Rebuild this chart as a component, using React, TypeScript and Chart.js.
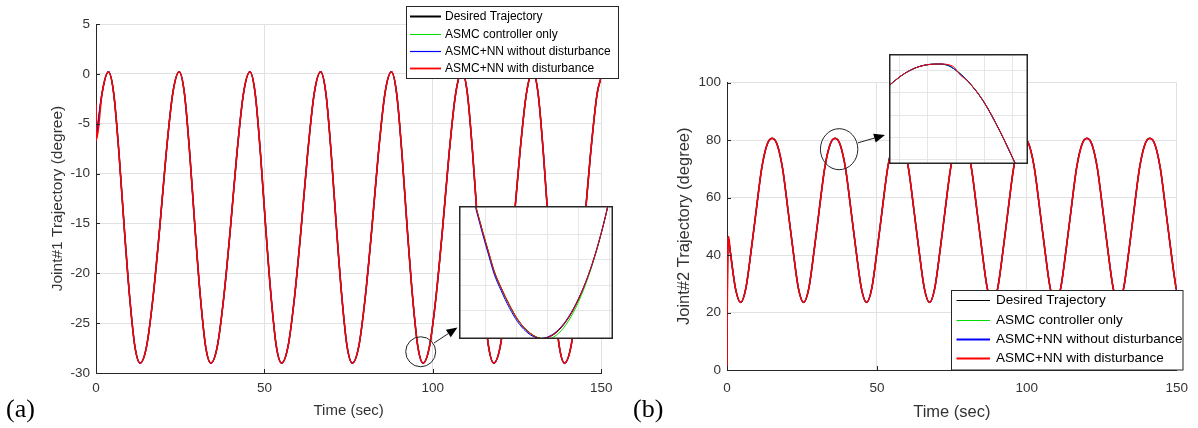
import React, { useEffect, useRef } from "react";
import { Chart, registerables } from "chart.js";

Chart.register(...registerables);

// ---------------- data ----------------
const seriesLabels = [
  "Desired Trajectory",
  "ASMC controller only",
  "ASMC+NN without disturbance",
  "ASMC+NN with disturbance",
];
const seriesColors = ["#000000", "#00dd00", "#0000ff", "#ff0000"];

// Joint #1 (panel a)
const joint1Time = [
  0, 1.77, 3.7,
  5.27, 6.83, 8.4, 9.97, 11.53, 13.1, 15.03, 16.97, 18.9, 20.83, 22.77, 24.7,
  26.27, 27.83, 29.4, 30.97, 32.53, 34.1, 36.03, 37.97, 39.9, 41.83, 43.77, 45.7,
  47.27, 48.83, 50.4, 51.97, 53.53, 55.1, 57.03, 58.97, 60.9, 62.83, 64.77, 66.7,
  68.27, 69.83, 71.4, 72.97, 74.53, 76.1, 78.03, 79.97, 81.9, 83.83, 85.77, 87.7,
  89.27, 90.83, 92.4, 93.97, 95.53, 97.1, 99.03, 100.97, 102.9, 104.83, 106.77, 108.7,
  110.27, 111.83, 113.4, 114.97, 116.53, 118.1, 120.03, 121.97, 123.9, 125.83, 127.77, 129.7,
  131.27, 132.83, 134.4, 135.97, 137.53, 139.1, 141.03, 142.97, 144.9, 146.83, 148.77, 150,
];
const joint1Desired = [
  -6.8, -2.0, 0.2,
  -2.0, -8.0, -15.5, -22.3, -27.3, -29.0, -27.3, -22.3, -15.5, -8.0, -2.0, 0.2,
  -2.0, -8.0, -15.5, -22.3, -27.3, -29.0, -27.3, -22.3, -15.5, -8.0, -2.0, 0.2,
  -2.0, -8.0, -15.5, -22.3, -27.3, -29.0, -27.3, -22.3, -15.5, -8.0, -2.0, 0.2,
  -2.0, -8.0, -15.5, -22.3, -27.3, -29.0, -27.3, -22.3, -15.5, -8.0, -2.0, 0.2,
  -2.0, -8.0, -15.5, -22.3, -27.3, -29.0, -27.3, -22.3, -15.5, -8.0, -2.0, 0.2,
  -2.0, -8.0, -15.5, -22.3, -27.3, -29.0, -27.3, -22.3, -15.5, -8.0, -2.0, 0.2,
  -2.0, -8.0, -15.5, -22.3, -27.3, -29.0, -27.3, -22.3, -15.5, -8.0, -2.0, -0.3,
];
const joint1DistStartTime = [0, 0.02, 0.2];
const joint1DistStartValue = [-6.8, -3.0, -6.5];
const joint1XTicks = [0, 50, 100, 150];
const joint1YTicks = [-30, -25, -20, -15, -10, -5, 0, 5];

// Joint #2 (panel b)
const joint2Time = [
  0, 0.3, 1.05, 2.8, 4.55,
  6.3, 8.05, 9.8, 11.55, 13.3, 15.05, 16.8, 18.55, 20.3, 22.05, 23.8, 25.55,
  27.3, 29.05, 30.8, 32.55, 34.3, 36.05, 37.8, 39.55, 41.3, 43.05, 44.8, 46.55,
  48.3, 50.05, 51.8, 53.55, 55.3, 57.05, 58.8, 60.55, 62.3, 64.05, 65.8, 67.55,
  69.3, 71.05, 72.8, 74.55, 76.3, 78.05, 79.8, 81.55, 83.3, 85.05, 86.8, 88.55,
  90.3, 92.05, 93.8, 95.55, 97.3, 99.05, 100.8, 102.55, 104.3, 106.05, 107.8, 109.55,
  111.3, 113.05, 114.8, 116.55, 118.3, 120.05, 121.8, 123.55, 125.3, 127.05, 128.8, 130.55,
  132.3, 134.05, 135.8, 137.55, 139.3, 141.05, 142.8, 144.55, 146.3, 148.05, 149.8, 150,
];
const joint2Desired = [
  15, 46.2, 41.5, 28.5, 23.5,
  28.5, 41.5, 56, 70, 78.2, 80.6, 78.2, 70, 56, 41.5, 28.5, 23.5,
  28.5, 41.5, 56, 70, 78.2, 80.6, 78.2, 70, 56, 41.5, 28.5, 23.5,
  28.5, 41.5, 56, 70, 78.2, 80.6, 78.2, 70, 56, 41.5, 28.5, 23.5,
  28.5, 41.5, 56, 70, 78.2, 80.6, 78.2, 70, 56, 41.5, 28.5, 23.5,
  28.5, 41.5, 56, 70, 78.2, 80.6, 78.2, 70, 56, 41.5, 28.5, 23.5,
  28.5, 41.5, 56, 70, 78.2, 80.6, 78.2, 70, 56, 41.5, 28.5, 23.5,
  28.5, 41.5, 56, 70, 78.2, 80.6, 78.2, 70, 56, 41.5, 28.5, 27.7,
];
const joint2DistStartTime = [0, 0.05, 0.55];
const joint2DistStartValue = [0, 15, 46.4];
const joint2XTicks = [0, 50, 100, 150];
const joint2YTicks = [0, 20, 40, 60, 80, 100];

// Zoomed inset of panel (a): trough near t = 97 s
const inset1Time = [94.6, 94.7, 94.91, 95.13, 95.29, 95.51, 95.77, 96.04, 96.31, 96.58, 96.8, 97.01, 97.28, 97.6, 97.92, 98.25, 98.51, 98.73, 98.89, 98.94, 99.05];
const inset1Desired = [-26.24, -26.46, -26.93, -27.4, -27.73, -28.05, -28.38, -28.67, -28.87, -28.99, -29.04, -29.02, -28.93, -28.71, -28.38, -27.92, -27.46, -26.99, -26.6, -26.46, -26.15];
const inset1Asmc = [-26.24, -26.46, -26.93, -27.39, -27.72, -28.04, -28.37, -28.66, -28.86, -28.99, -29.04, -29.05, -28.98, -28.77, -28.43, -27.95, -27.47, -26.99, -26.6, -26.46, -26.15];
const inset1NnClean = [-26.28, -26.5, -26.98, -27.45, -27.78, -28.1, -28.43, -28.71, -28.9, -29.01, -29.04, -29.01, -28.91, -28.69, -28.36, -27.91, -27.45, -26.98, -26.59, -26.46, -26.15];
const inset1NnDist = [-26.24, -26.46, -26.93, -27.39, -27.72, -28.04, -28.37, -28.66, -28.86, -28.99, -29.04, -29.02, -28.92, -28.7, -28.37, -27.91, -27.45, -26.98, -26.6, -26.46, -26.15];
const inset1XTicks = [95, 96, 97, 98, 99];
const inset1YTicks = [-28.5, -28, -27.5, -27];

// Zoomed inset of panel (b): peak near t = 36 s
const inset2Time = [34.4, 34.63, 35.02, 35.38, 35.73, 36.08, 36.43, 36.73, 37.08, 37.43, 37.97, 38.55, 39.08, 39.4];
const inset2Desired = [78.17, 78.65, 79.46, 80.03, 80.39, 80.56, 80.59, 80.45, 79.85, 79.01, 77.22, 74.53, 71.69, 69.97];
const inset2Asmc = [78.15, 78.63, 79.45, 80.02, 80.38, 80.56, 80.58, 80.44, 79.86, 79.0, 77.2, 74.5, 71.66, 69.95];
const inset2NnClean = [78.17, 78.65, 79.46, 80.03, 80.39, 80.56, 80.59, 80.45, 79.85, 79.01, 77.22, 74.53, 71.69, 69.97];
const inset2DistTime = [34.4, 34.63, 35.02, 35.38, 35.73, 36.08, 36.43, 36.88, 37.14, 37.43, 37.97, 38.55, 39.08, 39.4];
const inset2NnDist = [78.2, 78.66, 79.46, 80.03, 80.39, 80.56, 80.59, 80.4, 79.62, 79.01, 77.23, 74.55, 71.7, 69.98];
const inset2XTicks = [35, 36, 37, 38, 39];
const inset2YTicks = [72, 74, 76, 78, 80];

// ---------------- styling ----------------
const SANS = '"Liberation Sans", Arial, Helvetica, sans-serif';
const SERIF = '"Liberation Serif", "Times New Roman", serif';
const AXIS_COLOR = "#262626";
const TEXT_COLOR = "#333333";
const GRID_COLOR = "#e2e2e2";

type Pt = { x: number; y: number };
const pts = (t: number[], v: number[]): Pt[] => t.map((x, i) => ({ x, y: v[i] }));

function makeDatasets(data: Pt[][], widths: number[]) {
  return data.map((d, i) => ({
    label: seriesLabels[i],
    data: d,
    borderColor: seriesColors[i],
    backgroundColor: seriesColors[i],
    borderWidth: widths[i],
    pointRadius: 0,
    fill: false,
    cubicInterpolationMode: "monotone",
    order: 3 - i,
  }));
}

type Decor = {
  legend: { x: number; y: number; w: number; h: number; rows: number[]; lineX0: number; lineX1: number; textX: number; fontSize: number; lineWidths: number[] };
  circle: { t: number; v: number; rx: number; ry: number };
  arrowTip: { x: number; y: number };
  panel: { text: string; x: number; y: number };
};

function drawArrow(ctx: CanvasRenderingContext2D, x0: number, y0: number, x1: number, y1: number) {
  const ang = Math.atan2(y1 - y0, x1 - x0);
  const headLen = 11;
  const headHalf = 4.5;
  const bx = x1 - headLen * Math.cos(ang);
  const by = y1 - headLen * Math.sin(ang);
  ctx.beginPath();
  ctx.moveTo(x0, y0);
  ctx.lineTo(bx, by);
  ctx.stroke();
  ctx.beginPath();
  ctx.moveTo(x1, y1);
  ctx.lineTo(bx + headHalf * Math.sin(ang), by - headHalf * Math.cos(ang));
  ctx.lineTo(bx - headHalf * Math.sin(ang), by + headHalf * Math.cos(ang));
  ctx.closePath();
  ctx.fill();
}

function decorPlugin(d: Decor) {
  return {
    id: "decor",
    afterDraw(chart: any) {
      const ctx: CanvasRenderingContext2D = chart.ctx;
      const { left, bottom } = chart.chartArea;
      const xs = chart.scales.x;
      const ys = chart.scales.y;
      ctx.save();
      // inward tick marks
      ctx.strokeStyle = AXIS_COLOR;
      ctx.lineWidth = 1;
      ctx.beginPath();
      xs.ticks.forEach((t: any) => {
        const px = Math.round(xs.getPixelForValue(t.value)) + 0.5;
        ctx.moveTo(px, bottom);
        ctx.lineTo(px, bottom - 4);
      });
      ys.ticks.forEach((t: any) => {
        const py = Math.round(ys.getPixelForValue(t.value)) + 0.5;
        ctx.moveTo(left, py);
        ctx.lineTo(left + 4, py);
      });
      ctx.stroke();

      // zoom circle + arrow
      const cx = xs.getPixelForValue(d.circle.t);
      const cy = ys.getPixelForValue(d.circle.v);
      ctx.strokeStyle = "#222222";
      ctx.fillStyle = "#000000";
      ctx.lineWidth = 1;
      ctx.beginPath();
      ctx.ellipse(cx, cy, d.circle.rx, d.circle.ry, 0, 0, Math.PI * 2);
      ctx.stroke();
      const th = Math.atan2(d.arrowTip.y - cy, d.arrowTip.x - cx);
      const sx = cx + (d.circle.rx + 1) * Math.cos(th);
      const sy = cy + (d.circle.ry + 1) * Math.sin(th);
      drawArrow(ctx, sx, sy, d.arrowTip.x, d.arrowTip.y);

      // legend box
      const L = d.legend;
      ctx.fillStyle = "#ffffff";
      ctx.fillRect(L.x, L.y, L.w, L.h);
      ctx.strokeStyle = AXIS_COLOR;
      ctx.lineWidth = 1;
      ctx.strokeRect(L.x, L.y, L.w, L.h);
      ctx.font = `${L.fontSize}px ${SANS}`;
      ctx.textBaseline = "middle";
      ctx.textAlign = "left";
      chart.data.datasets.forEach((ds: any, i: number) => {
        const y = L.rows[i];
        ctx.strokeStyle = ds.borderColor;
        ctx.lineWidth = L.lineWidths[i];
        ctx.beginPath();
        ctx.moveTo(L.lineX0, y);
        ctx.lineTo(L.lineX1, y);
        ctx.stroke();
        ctx.fillStyle = "#000000";
        ctx.fillText(ds.label, L.textX, y);
      });

      // panel label
      ctx.font = `26px ${SERIF}`;
      ctx.fillStyle = "#000000";
      ctx.textBaseline = "middle";
      ctx.fillText(d.panel.text, d.panel.x, d.panel.y);
      ctx.restore();
    },
  };
}

type MainParams = {
  data: Pt[][];
  widths: number[];
  xTicks: number[];
  yTicks: number[];
  yMin: number;
  yMax: number;
  padding: { left: number; right: number; top: number; bottom: number };
  yAxisWidth: number;
  xAxisHeight: number;
  xTickPad: number;
  yTitle: string;
  yTitleSize: number;
  yTitlePad: number;
  xTitleSize: number;
  xTitlePad: number;
  decor: Decor;
};

function mainConfig(p: MainParams): any {
  return {
    type: "line",
    data: { datasets: makeDatasets(p.data, p.widths) },
    options: {
      animation: false,
      responsive: false,
      events: [],
      layout: { padding: p.padding },
      plugins: { legend: { display: false }, tooltip: { enabled: false } },
      scales: {
        x: {
          type: "linear",
          min: 0,
          max: 150,
          afterBuildTicks: (s: any) => {
            s.ticks = p.xTicks.map((v) => ({ value: v }));
          },
          afterFit: (s: any) => {
            s.height = p.xAxisHeight;
          },
          ticks: { font: { family: SANS, size: 13.5 }, color: TEXT_COLOR, padding: p.xTickPad, maxRotation: 0, autoSkip: false },
          grid: { color: GRID_COLOR, drawTicks: false, lineWidth: 1 },
          border: { display: true, color: AXIS_COLOR, width: 1 },
          title: { display: true, text: "Time (sec)", color: TEXT_COLOR, font: { family: SANS, size: p.xTitleSize }, padding: { top: 0, bottom: p.xTitlePad } },
        },
        y: {
          type: "linear",
          min: p.yMin,
          max: p.yMax,
          afterBuildTicks: (s: any) => {
            s.ticks = p.yTicks.map((v) => ({ value: v }));
          },
          afterFit: (s: any) => {
            s.width = p.yAxisWidth;
          },
          ticks: { font: { family: SANS, size: 13.5 }, color: TEXT_COLOR, padding: 6, autoSkip: false },
          grid: { color: GRID_COLOR, drawTicks: false, lineWidth: 1 },
          border: { display: true, color: AXIS_COLOR, width: 1 },
          title: { display: true, text: p.yTitle, color: TEXT_COLOR, font: { family: SANS, size: p.yTitleSize }, padding: { top: p.yTitlePad, bottom: 0 } },
        },
      },
    },
    plugins: [decorPlugin(p.decor)],
  };
}

type InsetParams = { data: Pt[][]; xMin: number; xMax: number; yMin: number; yMax: number; xTicks: number[]; yTicks: number[] };

function insetConfig(p: InsetParams): any {
  return {
    type: "line",
    data: { datasets: makeDatasets(p.data, [1, 1, 1, 1]) },
    options: {
      animation: false,
      responsive: false,
      events: [],
      layout: { padding: 0 },
      plugins: { legend: { display: false }, tooltip: { enabled: false } },
      scales: {
        x: {
          type: "linear",
          min: p.xMin,
          max: p.xMax,
          afterBuildTicks: (s: any) => {
            s.ticks = p.xTicks.map((v) => ({ value: v }));
          },
          afterFit: (s: any) => {
            s.height = 0;
          },
          ticks: { display: false },
          grid: { color: "#e6e6e6", drawTicks: false },
          border: { display: false },
        },
        y: {
          type: "linear",
          min: p.yMin,
          max: p.yMax,
          afterBuildTicks: (s: any) => {
            s.ticks = p.yTicks.map((v) => ({ value: v }));
          },
          afterFit: (s: any) => {
            s.width = 0;
          },
          ticks: { display: false },
          grid: { color: "#e6e6e6", drawTicks: false },
          border: { display: false },
        },
      },
    },
    plugins: [
      {
        id: "insetFrame",
        beforeDraw(chart: any) {
          const ctx = chart.ctx;
          ctx.save();
          ctx.fillStyle = "#ffffff";
          ctx.fillRect(0, 0, chart.width, chart.height);
          ctx.restore();
        },
        afterDraw(chart: any) {
          const ctx = chart.ctx;
          ctx.save();
          ctx.strokeStyle = AXIS_COLOR;
          ctx.lineWidth = 1.5;
          ctx.strokeRect(0.75, 0.75, chart.width - 1.5, chart.height - 1.5);
          ctx.restore();
        },
      },
    ],
  };
}

function ChartCanvas(props: { make: () => any; left: number; top: number; width: number; height: number }) {
  const ref = useRef<HTMLCanvasElement>(null);
  useEffect(() => {
    const chart = new Chart(ref.current as HTMLCanvasElement, props.make());
    return () => chart.destroy();
  }, []);
  return (
    <canvas
      ref={ref}
      width={props.width}
      height={props.height}
      style={{ position: "absolute", left: props.left, top: props.top, width: props.width, height: props.height }}
    />
  );
}

const makeLeft = () =>
  mainConfig({
    data: [
      pts(joint1Time, joint1Desired),
      pts(joint1Time, joint1Desired),
      pts(joint1Time, joint1Desired),
      pts([...joint1DistStartTime, ...joint1Time.slice(1)], [...joint1DistStartValue, ...joint1Desired.slice(1)]),
    ],
    widths: [1.5, 1, 1.2, 1.6],
    xTicks: joint1XTicks,
    yTicks: joint1YTicks,
    yMin: -30,
    yMax: 5,
    padding: { left: 0, right: 13, top: 24, bottom: 0 },
    yAxisWidth: 96,
    xAxisHeight: 55,
    xTickPad: 7.5,
    yTitle: "Joint#1 Trajectory (degree)",
    yTitleSize: 15.5,
    yTitlePad: 48.7,
    xTitleSize: 15,
    xTitlePad: 8,
    decor: {
      legend: { x: 406.5, y: 6.5, w: 212, h: 72, rows: [16.5, 34.5, 51.5, 68.5], lineX0: 410, lineX1: 441, textX: 445, fontSize: 12, lineWidths: [2, 1, 1.2, 1.8] },
      circle: { t: 96.4, v: -27.87, rx: 15, ry: 15 },
      arrowTip: { x: 457.5, y: 327.5 },
      panel: { text: "(a)", x: 6, y: 410 },
    },
  });

const makeRight = () =>
  mainConfig({
    data: [
      pts(joint2Time, joint2Desired),
      pts(joint2Time, joint2Desired),
      pts(joint2Time, joint2Desired),
      pts([...joint2DistStartTime, ...joint2Time.slice(2)], [...joint2DistStartValue, ...joint2Desired.slice(2)]),
    ],
    widths: [1.5, 1, 1.2, 1.6],
    xTicks: joint2XTicks,
    yTicks: joint2YTicks,
    yMin: 0,
    yMax: 100,
    padding: { left: 0, right: 15, top: 82.5, bottom: 0 },
    yAxisWidth: 107,
    xAxisHeight: 58,
    xTickPad: 10,
    yTitle: "Joint#2 Trajectory (degree)",
    yTitleSize: 16.5,
    yTitlePad: 55,
    xTitleSize: 16.5,
    xTitlePad: 6,
    decor: {
      legend: { x: 331.5, y: 290.5, w: 231.5, h: 79.5, rows: [300.5, 320.5, 339.5, 358.5], lineX0: 336.5, lineX1: 370, textX: 376, fontSize: 13.5, lineWidths: [1, 1, 1.8, 1.8] },
      circle: { t: 37.4, v: 76.8, rx: 18.7, ry: 20.5 },
      arrowTip: { x: 265, y: 135 },
      panel: { text: "(b)", x: 13, y: 410 },
    },
  });

const makeInset1 = () =>
  insetConfig({
    data: [pts(inset1Time, inset1Desired), pts(inset1Time, inset1Asmc), pts(inset1Time, inset1NnClean), pts(inset1Time, inset1NnDist)],
    xMin: 94.16,
    xMax: 99.11,
    yMin: -29.05,
    yMax: -26.45,
    xTicks: inset1XTicks,
    yTicks: inset1YTicks,
  });

const makeInset2 = () =>
  insetConfig({
    data: [pts(inset2Time, inset2Desired), pts(inset2Time, inset2Asmc), pts(inset2Time, inset2NnClean), pts(inset2DistTime, inset2NnDist)],
    xMin: 34.633,
    xMax: 39.534,
    yMin: 71.62,
    yMax: 81.49,
    xTicks: inset2XTicks,
    yTicks: inset2YTicks,
  });

export default function App() {
  return (
    <div style={{ position: "fixed", left: 0, top: 0, width: 1198, height: 428, background: "#ffffff", overflow: "hidden" }}>
      <ChartCanvas make={makeLeft} left={0} top={0} width={620} height={428} />
      <ChartCanvas make={makeRight} left={620} top={0} width={578} height={428} />
      <ChartCanvas make={makeInset1} left={459} top={206} width={154} height={133} />
      <ChartCanvas make={makeInset2} left={889} top={54} width={139} height={110} />
    </div>
  );
}
